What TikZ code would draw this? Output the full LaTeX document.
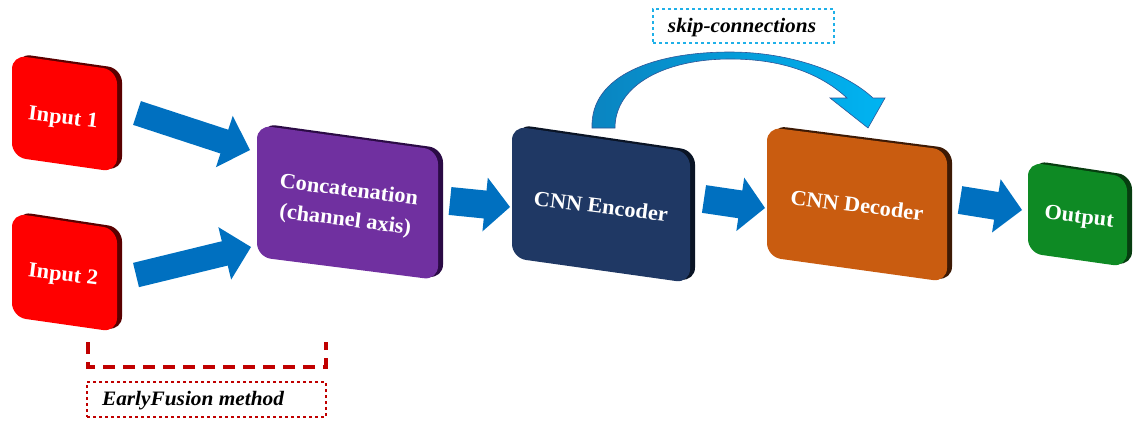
\documentclass[tikz,border=0pt]{standalone}
\usepackage{fontspec}
\setmainfont{Liberation Serif}[FakeStretch=1.04]
\usetikzlibrary{calc}
\definecolor{inred}{HTML}{FF0000}
\definecolor{inredsh}{HTML}{5A0000}
\definecolor{cpurple}{HTML}{7030A0}
\definecolor{cpurplesh}{HTML}{2B0B45}
\definecolor{cnavy}{HTML}{1F3864}
\definecolor{cnavysh}{HTML}{0A1425}
\definecolor{corange}{HTML}{C95C10}
\definecolor{corangesh}{HTML}{3D1A05}
\definecolor{cgreen}{HTML}{0E8A24}
\definecolor{cgreensh}{HTML}{073D10}
\definecolor{arrowblue}{HTML}{0070C0}
\definecolor{skipdark}{HTML}{0A84C0}
\definecolor{skiplight}{HTML}{00B4F2}
\definecolor{skipline}{HTML}{2F5597}
\definecolor{dred}{HTML}{C00000}
\definecolor{cyanline}{HTML}{1FB0E8}
\newcommand\blockarrow[5]{%
  \coordinate (hb) at ($(#2)!#5!(#1)$);
  \fill[arrowblue] ($(#1)!#3!90:(#2)$) -- ($(hb)!#3!-90:(#1)$) -- ($(hb)!#4!-90:(#1)$) -- (#2)
    -- ($(hb)!#4!90:(#1)$) -- ($(hb)!#3!90:(#1)$) -- ($(#1)!#3!-90:(#2)$) -- cycle;}
\begin{document}
\begin{tikzpicture}[x=1pt,y=-1pt,
  lbl/.style={text=white,font=\bfseries\fontsize{21.5}{30}\selectfont,align=center,rotate=-7,inner sep=0},
  face/.style={rounded corners=14pt},
  shadowface/.style={rounded corners=14pt,shift={(5,-1.5)}},
  tag/.style={font=\bfseries\itshape\fontsize{20.5}{23}\selectfont,inner sep=0}]
\useasboundingbox (0,0) rectangle (1134,421);
% Input 1
\fill[inredsh,shadowface] (12,55)--(117,70)--(117,172)--(12,157)--cycle;
\fill[inred,face] (12,55)--(117,70)--(117,172)--(12,157)--cycle;
\node[lbl] (in1) at (63,119) {Input 1};
% Input 2
\fill[inredsh,shadowface] (12,213)--(117,229)--(117,332)--(12,317)--cycle;
\fill[inred,face] (12,213)--(117,229)--(117,332)--(12,317)--cycle;
\node[lbl] (in2) at (63,276) {Input 2};
% Concatenation
\fill[cpurplesh,shadowface] (257,125)--(438,150)--(438,280)--(257,257)--cycle;
\fill[cpurple,face] (257,125)--(438,150)--(438,280)--(257,257)--cycle;
\node[lbl] (cat) at (347,206) {Concatenation\\(channel axis)};
% Encoder
\fill[cnavysh,shadowface] (512,126)--(690,152)--(690,283)--(512,258)--cycle;
\fill[cnavy,face] (512,126)--(690,152)--(690,283)--(512,258)--cycle;
\node[lbl] (enc) at (601,206) {CNN Encoder};
% Decoder
\fill[corangesh,shadowface] (767,127)--(947,150)--(947,282)--(767,257)--cycle;
\fill[corange,face] (767,127)--(947,150)--(947,282)--(767,257)--cycle;
\node[lbl] (dec) at (857,205) {CNN Decoder};
% Output
\fill[cgreensh,shadowface] (1028,162)--(1127,177)--(1127,267)--(1028,253)--cycle;
\fill[cgreen,face] (1028,162)--(1127,177)--(1127,267)--(1028,253)--cycle;
\node[lbl] (out) at (1079,218) {Output};
% block arrows
\coordinate (a1t) at (137,113); \coordinate (a1h) at (250,150);
\coordinate (a2t) at (136,275); \coordinate (a2h) at (251,247);
\coordinate (a3t) at (450,201); \coordinate (a3h) at (510,207);
\coordinate (a4t) at (704,199); \coordinate (a4h) at (765,208);
\coordinate (a5t) at (960,200); \coordinate (a5h) at (1022,210);
\blockarrow{a1t}{a1h}{12.5pt}{27pt}{27pt}
\blockarrow{a2t}{a2h}{12.5pt}{27pt}{27pt}
\blockarrow{a3t}{a3h}{14pt}{27pt}{25pt}
\blockarrow{a4t}{a4h}{14pt}{27pt}{25pt}
\blockarrow{a5t}{a5h}{14pt}{27pt}{26pt}
% skip connection arrow
\shade[left color=skipdark,right color=skiplight,draw=skipline,line width=0.6pt]
  (592,128) .. controls (590,75) and (655,52) .. (730,52)
  .. controls (790,52) and (845,72) .. (873,98) -- (885,98) -- (868,128) -- (830,98) -- (847,98)
  .. controls (822,75) and (785,59) .. (730,59)
  .. controls (665,59) and (615,85) .. (615,128) -- cycle;
\node[draw=cyanline,dashed,line width=1.4pt,minimum width=181pt,minimum height=34pt] (skip) at (743.5,26) {};
\node[tag] (skiptxt) at (742,28) {skip-connections};
% early fusion bracket
\draw[dred,line width=4.5pt,dash pattern=on 12pt off 8pt] (88,342) -- (88,367) -- (326,367) -- (326,342);
\node[draw=dred,dashed,line width=1.1pt,minimum width=239pt,minimum height=35pt] (ef) at (206.5,399.5) {};
\node[tag] (eftxt) at (193,401) {EarlyFusion method};
\end{tikzpicture}
\end{document}
